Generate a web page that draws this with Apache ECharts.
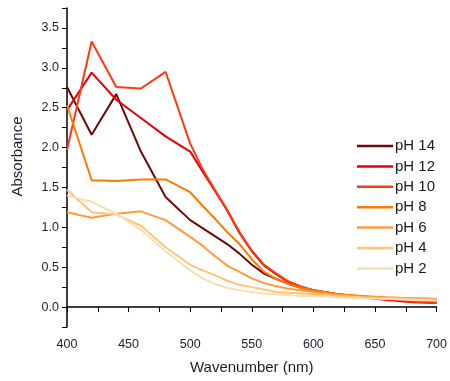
<!DOCTYPE html>
<html>
<head>
<meta charset="utf-8">
<script src="https://cdn.jsdelivr.net/npm/echarts@6/dist/echarts.min.js"></script>
<style>
  html, body { margin: 0; padding: 0; background: #fff; }
  #chart { width: 450px; height: 381px; }
</style>
</head>
<body>
<div id="chart"></div>
<script>
// wavelengths (nm) shared by all spectra
var wavelengths = [400, 420, 440, 460, 480, 500, 510, 520, 530, 540, 550, 560, 570, 580, 590, 600, 620, 640, 660, 680, 700]
var ph14 = [2.76, 2.16, 2.67, 1.95, 1.38, 1.09, 0.99, 0.89, 0.79, 0.67, 0.53, 0.42, 0.35, 0.29, 0.24, 0.21, 0.16, 0.13, 0.11, 0.07, 0.06]
var ph12 = [2.47, 2.94, 2.60, 2.37, 2.14, 1.95, 1.70, 1.46, 1.21, 0.93, 0.70, 0.52, 0.41, 0.31, 0.25, 0.21, 0.15, 0.12, 0.09, 0.06, 0.05]
var ph10 = [1.97, 3.33, 2.76, 2.74, 2.95, 2.05, 1.73, 1.47, 1.22, 0.94, 0.71, 0.53, 0.42, 0.32, 0.26, 0.21, 0.16, 0.13, 0.11, 0.07, 0.05]
var ph8 = [2.53, 1.59, 1.58, 1.60, 1.60, 1.44, 1.27, 1.11, 0.94, 0.79, 0.60, 0.44, 0.35, 0.29, 0.24, 0.21, 0.16, 0.14, 0.12, 0.11, 0.10]
var ph6 = [1.19, 1.12, 1.17, 1.20, 1.09, 0.88, 0.77, 0.64, 0.52, 0.44, 0.36, 0.30, 0.26, 0.23, 0.21, 0.19, 0.15, 0.13, 0.12, 0.11, 0.10]
var ph4 = [1.47, 1.19, 1.16, 1.02, 0.75, 0.53, 0.46, 0.40, 0.33, 0.28, 0.25, 0.22, 0.19, 0.18, 0.17, 0.16, 0.14, 0.12, 0.11, 0.10, 0.09]
var ph2 = [1.40, 1.32, 1.17, 0.97, 0.70, 0.46, 0.36, 0.29, 0.24, 0.21, 0.19, 0.17, 0.16, 0.15, 0.14, 0.14, 0.12, 0.11, 0.10, 0.09, 0.08]
var seriesNames = ['pH 14', 'pH 12', 'pH 10', 'pH 8', 'pH 6', 'pH 4', 'pH 2']

var seriesValues = [ph14, ph12, ph10, ph8, ph6, ph4, ph2]
var colors = ['#6e0a0a', '#e4000c', '#ff3a12', '#ff7b00', '#ff9c3c', '#ffc47a', '#f7dfb2']

var chart = echarts.init(document.getElementById('chart'), null, { renderer: 'canvas' })

var series = seriesNames.map(function (name, i) {
  return {
    name: name,
    type: 'line',
    symbol: 'none',
    data: wavelengths.map(function (w, j) { return [w, seriesValues[i][j]] }),
    lineStyle: { width: 2, color: colors[i] },
    itemStyle: { color: colors[i] }
  }
})

var labelColor = '#1c1c30'
var fontFam = '"Liberation Sans", Arial, sans-serif'

var option = {
  animation: false,
  backgroundColor: '#fff',
  grid: { left: 67, right: 10, top: 8, bottom: 54 },
  legend: {
    orient: 'vertical',
    left: 352,
    top: 133,
    icon: 'rect',
    itemWidth: 36,
    itemHeight: 2.5,
    itemGap: 4.4,
    textStyle: { fontSize: 15, lineHeight: 16, color: '#1a1a1a', fontFamily: fontFam, padding: [0, 0, 0, -3] },
    data: seriesNames
  },
  xAxis: {
    type: 'value',
    min: 400,
    max: 700,
    interval: 25,
    name: 'Wavenumber (nm)',
    nameLocation: 'middle',
    nameGap: 33,
    nameTextStyle: { fontSize: 15, color: labelColor, fontFamily: fontFam },
    axisLine: { show: true, lineStyle: { color: '#000', width: 1.5 } },
    axisTick: { show: true, inside: false, length: 5, lineStyle: { color: '#000', width: 1 } },
    axisLabel: {
      margin: 11,
      fontSize: 12.5,
      color: labelColor,
      fontFamily: fontFam,
      formatter: function (v) { return v % 50 === 0 ? String(v) : '' }
    },
    splitLine: { show: false }
  },
  yAxis: {
    type: 'value',
    min: -0.25,
    max: 3.75,
    interval: 0.25,
    name: 'Absorbance',
    nameLocation: 'middle',
    nameGap: 42,
    nameRotate: 90,
    nameTextStyle: { fontSize: 15, color: labelColor, fontFamily: fontFam, padding: [0, 0, 0, 22] },
    axisLine: { show: true, onZero: false, lineStyle: { color: '#000', width: 1.5 } },
    axisTick: { show: true, inside: false, length: 5, lineStyle: { color: '#000', width: 1 } },
    axisLabel: {
      margin: 8,
      fontSize: 12.5,
      color: labelColor,
      fontFamily: fontFam,
      formatter: function (v) {
        var d = v * 2
        if (Math.abs(d - Math.round(d)) > 1e-6 || v < 0 || v > 3.6) return ''
        return v.toFixed(1)
      }
    },
    splitLine: { show: false }
  },
  series: series
}

chart.setOption(option)
</script>
</body>
</html>
